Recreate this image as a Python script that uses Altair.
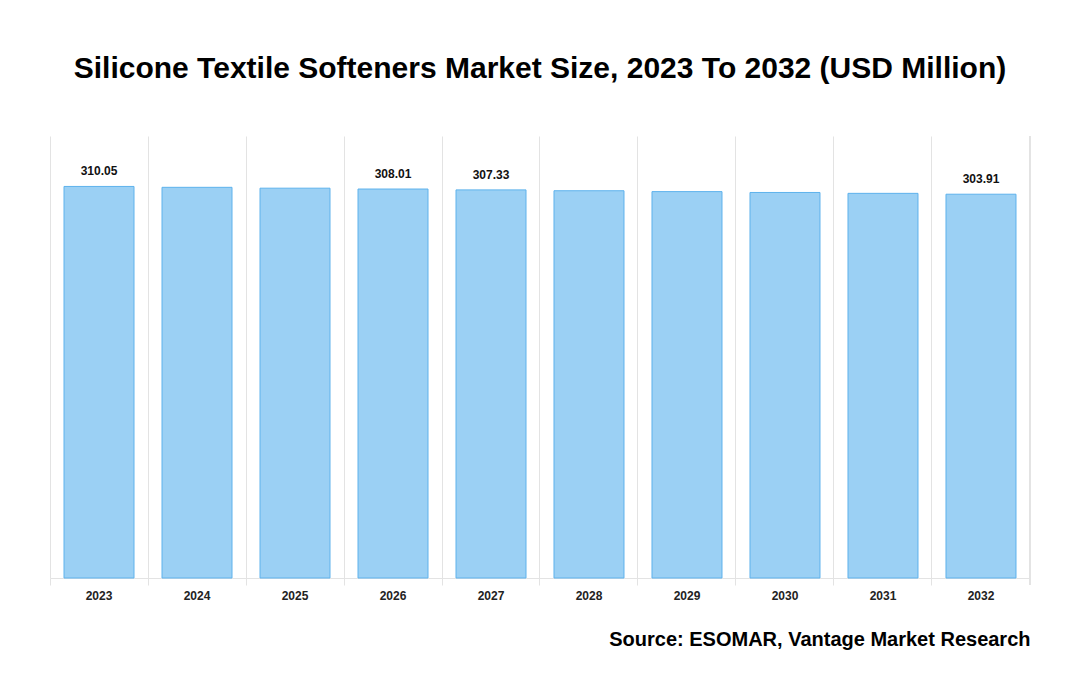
import altair as alt
import pandas as pd

years = ["2023", "2024", "2025", "2026", "2027", "2028", "2029", "2030", "2031", "2032"]
values = [310.05, 309.36, 308.68, 308.01, 307.33, 306.65, 305.96, 305.28, 304.59, 303.91]
labels = ["310.05", "", "", "308.01", "307.33", "", "", "", "", "303.91"]

df = pd.DataFrame({"year": years, "value": values, "label": labels})

FONT = "Liberation Sans"
W, H = 980, 442

x = alt.X(
    "year:N",
    sort=years,
    scale=alt.Scale(paddingInner=0.2857, paddingOuter=0.1429),
    axis=alt.Axis(
        title="Source: ESOMAR, Vantage Market Research",
        titleAnchor="end",
        titleAlign="right",
        titleFont=FONT,
        titleFontSize=20,
        titleFontWeight="bold",
        titleColor="#000000",
        titlePadding=28,
        labelAngle=0,
        labelFont=FONT,
        labelFontSize=12,
        labelFontWeight="bold",
        labelColor="#222222",
        labelPadding=5,
        bandPosition=-0.2,
        grid=True,
        gridColor="#e3e3e3",
        gridWidth=1,
        ticks=True,
        tickSize=7,
        tickColor="#e3e3e3",
        domainColor="#e3e3e3",
    ),
)
y = alt.Y("value:Q", scale=alt.Scale(domain=[0, 350], nice=False), axis=None)

base = alt.Chart(df)

bars = base.mark_bar(fill="#9bd0f4", stroke="#5eb2ec", strokeWidth=1).encode(x=x, y=y)

text = base.mark_text(
    baseline="bottom", dy=-8, font=FONT, fontSize=12, fontWeight="bold", color="#111111"
).encode(x=x, y=y, text="label:N")

edge = alt.Chart(df).mark_rule(color="#e3e3e3", strokeWidth=1).encode(
    x=alt.value(W), y=alt.value(0), y2=alt.value(H + 7)
)

chart = (
    alt.layer(edge, bars, text)
    .properties(
        width=W,
        height=H,
        padding={"left": 42, "top": 128, "right": 42, "bottom": 110},
        autosize=alt.AutoSizeParams(type="none"),
        title=alt.TitleParams(
            "Silicone Textile Softeners Market Size, 2023 To 2032 (USD Million)",
            anchor="middle",
            font=FONT,
            fontSize=30,
            fontWeight="bold",
            color="#000000",
            offset=52,
        ),
    )
    .configure_view(stroke=None)
)

chart.save("out.html", embed_options={"renderer": "svg", "actions": False})
